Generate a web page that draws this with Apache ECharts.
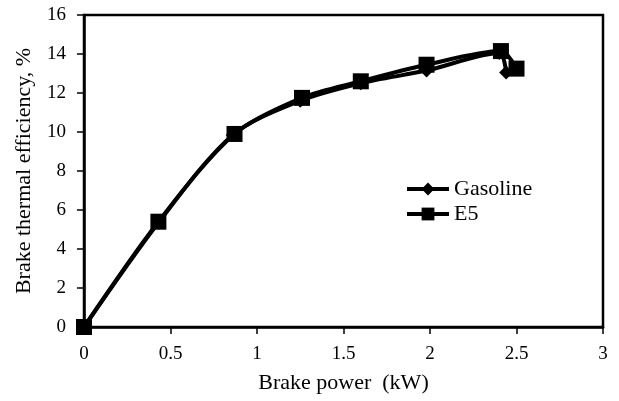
<!DOCTYPE html>
<html>
<head>
<meta charset="utf-8">
<script src="https://cdn.jsdelivr.net/npm/echarts@6/dist/echarts.min.js"></script>
<style>
html, body { margin: 0; padding: 0; background: #fff; }
#box { width: 619px; height: 401px; }
</style>
</head>
<body>
<div id="box"></div>
<script>
// data
var power = {
    gasoline: [0, 0.43, 0.86, 1.25, 1.6, 1.98, 2.4, 2.44],
    e5: [0, 0.43, 0.87, 1.26, 1.6, 1.98, 2.41, 2.5]
};
var gasolineEff = [0, 5.35, 9.85, 11.6, 12.5, 13.15, 14.05, 13.05];
var e5Eff = [0, 5.4, 9.9, 11.75, 12.6, 13.45, 14.15, 13.25];
var xTicks = [0, 0.5, 1, 1.5, 2, 2.5, 3];
var yTicks = [0, 2, 4, 6, 8, 10, 12, 14, 16];

function pairs(xs, ys) {
    var out = [];
    for (var i = 0; i < xs.length; i++) {
        out.push([xs[i], ys[i]]);
    }
    return out;
}

var font = 'Liberation Serif';
var myChart = echarts.init(document.getElementById('box'));
var option = {
    animation: false,
    textStyle: { fontFamily: font, color: '#000' },
    grid: {
        left: 84, right: 16, top: 15, bottom: 74,
        show: true, borderColor: '#000', borderWidth: 2.5
    },
    legend: {
        orient: 'vertical',
        left: 400, top: 173,
        itemGap: 3,
        itemWidth: 42, itemHeight: 16,
        lineStyle: { width: 4, color: '#000' },
        textStyle: { fontFamily: font, fontSize: 22, color: '#000' },
        data: ['Gasoline', 'E5']
    },
    xAxis: {
        type: 'value',
        min: 0, max: 3, interval: 0.5,
        name: 'Brake power  (kW)',
        nameLocation: 'middle',
        nameGap: 45,
        nameTextStyle: { fontFamily: font, fontSize: 22, color: '#000' },
        axisLine: { lineStyle: { color: '#000', width: 2.5 } },
        axisTick: { show: true, inside: false, length: 7, lineStyle: { color: '#000', width: 1.5 } },
        axisLabel: {
            fontFamily: font, fontSize: 19, color: '#000', margin: 18,
            formatter: function(v) { return xTicks.indexOf(v) >= 0 ? String(v) : ''; }
        },
        splitLine: { show: false }
    },
    yAxis: {
        type: 'value',
        min: 0, max: 16, interval: 2,
        name: 'Brake thermal efficiency, %',
        nameLocation: 'middle',
        nameGap: 49,
        nameTextStyle: { fontFamily: font, fontSize: 22, color: '#000' },
        axisLine: { show: true, lineStyle: { color: '#000', width: 2.5 } },
        axisTick: { show: true, inside: false, length: 7, lineStyle: { color: '#000', width: 1.5 } },
        axisLabel: {
            fontFamily: font, fontSize: 19, color: '#000', margin: 18,
            formatter: function(v) { return yTicks.indexOf(v) >= 0 ? String(v) : ''; }
        },
        splitLine: { show: false }
    },
    series: [{
            name: 'Gasoline',
            type: 'line',
            smooth: 0.3,
            symbol: 'diamond',
            symbolSize: 14,
            itemStyle: { color: '#000' },
            lineStyle: { color: '#000', width: 4 },
            data: pairs(power.gasoline, gasolineEff)
        },
        {
            name: 'E5',
            type: 'line',
            smooth: 0.3,
            symbol: 'rect',
            symbolSize: 16,
            itemStyle: { color: '#000' },
            lineStyle: { color: '#000', width: 4 },
            data: pairs(power.e5, e5Eff)
        }
    ]
};
myChart.setOption(option);
</script>
</body>
</html>
